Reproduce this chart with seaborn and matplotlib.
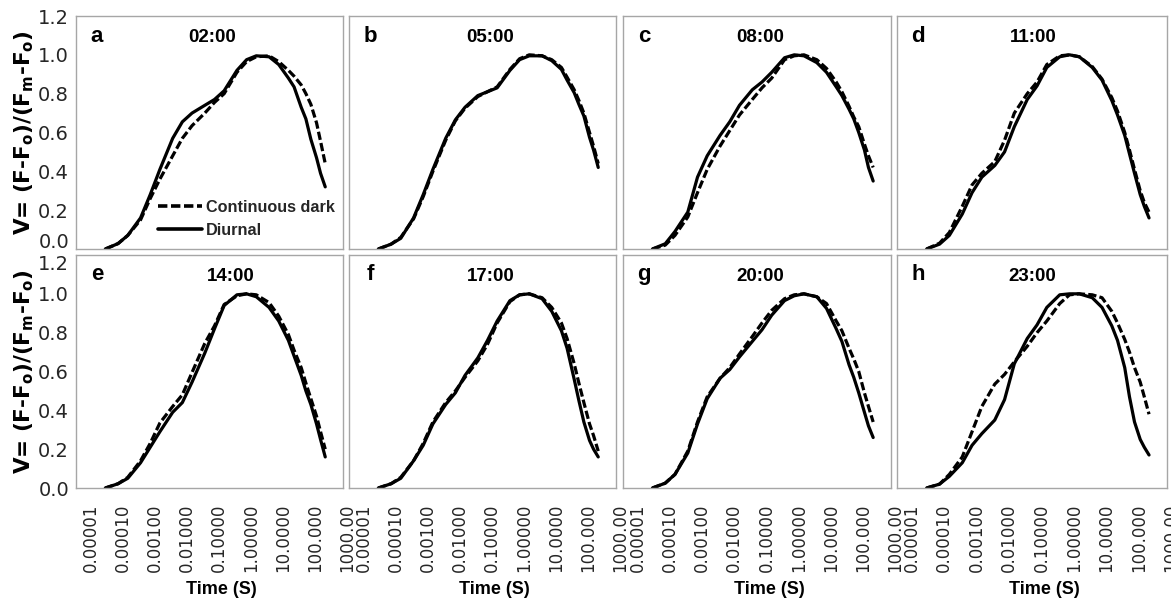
import matplotlib
matplotlib.use("Agg")
import matplotlib.pyplot as plt
import matplotlib.transforms as mtransforms
from matplotlib.lines import Line2D
from matplotlib.ticker import NullLocator
import pandas as pd
import seaborn as sns

# ---------------- data ----------------
time_s = [4e-5, 1e-4, 2e-4, 5e-4, 1e-3, 2e-3, 5e-3, 1e-2, 2e-2, 5e-2, 0.1, 0.2,
          0.5, 1, 2, 5, 10, 20, 30, 50, 70, 100, 150, 200, 280]

panel_letters = ["a", "b", "c", "d", "e", "f", "g", "h"]
panel_times = ["02:00", "05:00", "08:00", "11:00", "14:00", "17:00", "20:00", "23:00"]

a_dark = [0, 0.028, 0.07, 0.15, 0.26, 0.36, 0.48, 0.57, 0.635, 0.70, 0.755, 0.80, 0.91, 0.965, 0.99, 0.995, 0.965,
          0.92, 0.89, 0.845, 0.80, 0.745, 0.65, 0.555, 0.44]
a_diurnal = [0, 0.028, 0.07, 0.16, 0.28, 0.41, 0.57, 0.655, 0.70, 0.74, 0.77, 0.815, 0.92, 0.975, 0.995, 0.99, 0.95,
             0.88, 0.835, 0.73, 0.67, 0.565, 0.47, 0.39, 0.32]
b_dark = [0, 0.025, 0.06, 0.155, 0.27, 0.40, 0.56, 0.66, 0.725, 0.785, 0.81, 0.835, 0.925, 0.98, 1.0, 0.995, 0.975,
          0.935, 0.885, 0.82, 0.765, 0.70, 0.60, 0.53, 0.44]
b_diurnal = [0, 0.025, 0.055, 0.16, 0.28, 0.41, 0.57, 0.665, 0.73, 0.79, 0.81, 0.83, 0.92, 0.975, 0.995, 0.995, 0.97,
             0.925, 0.87, 0.805, 0.745, 0.685, 0.575, 0.51, 0.42]
c_dark = [0, 0.02, 0.07, 0.165, 0.29, 0.41, 0.53, 0.61, 0.69, 0.77, 0.83, 0.88, 0.975, 0.995, 1.0, 0.975, 0.93,
          0.86, 0.81, 0.735, 0.68, 0.63, 0.54, 0.48, 0.42]
c_diurnal = [0, 0.027, 0.09, 0.19, 0.37, 0.48, 0.585, 0.655, 0.74, 0.82, 0.86, 0.91, 0.985, 1.0, 0.995, 0.96, 0.91,
             0.835, 0.79, 0.72, 0.67, 0.60, 0.51, 0.42, 0.35]
d_dark = [0, 0.03, 0.085, 0.22, 0.33, 0.39, 0.45, 0.56, 0.70, 0.80, 0.86, 0.95, 0.995, 1.0, 0.99, 0.94, 0.875,
          0.78, 0.71, 0.60, 0.51, 0.41, 0.30, 0.24, 0.19]
d_diurnal = [0, 0.025, 0.07, 0.18, 0.29, 0.37, 0.43, 0.50, 0.63, 0.77, 0.84, 0.935, 0.99, 1.0, 0.99, 0.935, 0.87,
             0.765, 0.69, 0.585, 0.49, 0.39, 0.28, 0.22, 0.16]
e_dark = [0, 0.022, 0.055, 0.14, 0.23, 0.335, 0.42, 0.48, 0.595, 0.745, 0.835, 0.945, 0.99, 1.0, 0.995, 0.955, 0.885,
          0.79, 0.71, 0.62, 0.54, 0.46, 0.37, 0.29, 0.20]
e_diurnal = [0, 0.022, 0.05, 0.13, 0.21, 0.29, 0.39, 0.44, 0.545, 0.695, 0.82, 0.94, 0.995, 1.0, 0.985, 0.93, 0.86,
             0.76, 0.68, 0.58, 0.50, 0.43, 0.33, 0.25, 0.16]
f_dark = [0, 0.022, 0.055, 0.14, 0.23, 0.34, 0.44, 0.50, 0.57, 0.655, 0.74, 0.85, 0.96, 0.995, 1.0, 0.98, 0.93,
          0.85, 0.77, 0.64, 0.54, 0.44, 0.33, 0.27, 0.19]
f_diurnal = [0, 0.022, 0.05, 0.14, 0.22, 0.33, 0.43, 0.49, 0.58, 0.67, 0.76, 0.86, 0.965, 0.995, 1.0, 0.975, 0.91,
             0.81, 0.72, 0.56, 0.45, 0.34, 0.245, 0.20, 0.16]
g_dark = [0, 0.025, 0.07, 0.19, 0.34, 0.47, 0.565, 0.62, 0.69, 0.78, 0.85, 0.915, 0.975, 0.995, 1.0, 0.985, 0.95,
          0.86, 0.81, 0.72, 0.665, 0.60, 0.49, 0.42, 0.34]
g_diurnal = [0, 0.025, 0.07, 0.18, 0.33, 0.46, 0.565, 0.61, 0.675, 0.755, 0.815, 0.89, 0.965, 0.99, 1.0, 0.985, 0.925,
             0.82, 0.755, 0.635, 0.57, 0.49, 0.39, 0.32, 0.26]
h_dark = [0, 0.02, 0.07, 0.16, 0.29, 0.42, 0.535, 0.585, 0.65, 0.73, 0.80, 0.86, 0.95, 0.995, 1.0, 0.995, 0.98,
          0.91, 0.85, 0.765, 0.70, 0.62, 0.545, 0.47, 0.38]
h_diurnal = [0, 0.02, 0.06, 0.13, 0.22, 0.28, 0.35, 0.455, 0.64, 0.77, 0.84, 0.93, 0.995, 1.0, 1.0, 0.98, 0.93,
             0.835, 0.76, 0.62, 0.47, 0.34, 0.25, 0.21, 0.17]

dark_series = [a_dark, b_dark, c_dark, d_dark, e_dark, f_dark, g_dark, h_dark]
diurnal_series = [a_diurnal, b_diurnal, c_diurnal, d_diurnal, e_diurnal, f_diurnal, g_diurnal, h_diurnal]

x_ticks = [1e-5, 1e-4, 1e-3, 1e-2, 1e-1, 1, 10, 100, 1000]
x_tick_labels = ["0.00001", "0.00010", "0.00100", "0.01000", "0.10000",
                 "1.00000", "10.0000", "100.000", "1000.00"]
y_ticks = [0.0, 0.2, 0.4, 0.6, 0.8, 1.0, 1.2]
y_tick_labels = ["0.0", "0.2", "0.4", "0.6", "0.8", "1.0", "1.2"]

cond_names = ["Continuous dark", "Diurnal"]

# ---------------- style ----------------
sns.set_theme(style="white")
plt.rcParams["font.family"] = ["DejaVu Sans"]
plt.rcParams["mathtext.fontset"] = "custom"
plt.rcParams["mathtext.rm"] = "DejaVu Sans:bold"
plt.rcParams["mathtext.bf"] = "DejaVu Sans:bold"
plt.rcParams["mathtext.it"] = "DejaVu Sans:bold"

W, H = 1171, 605
fig = plt.figure(figsize=(W / 100, H / 100), dpi=100)

lefts = [76, 349, 623, 897]
widths = [267, 267, 268, 270]
tops = [16, 255]
hgt = 233
title_off = [2.5, 8, 3, 1.5, 21, 8, 3, 0.5]

spine_col = "#a6a6a6"
lab_col = "#262626"
dash_pat = (2.6, 1.0)

for i in range(8):
    r, c = divmod(i, 4)
    ax = fig.add_axes([lefts[c] / W, 1 - (tops[r] + hgt) / H, widths[c] / W, hgt / H])
    n = len(time_s)
    df = pd.DataFrame({
        "time": time_s + time_s,
        "V": dark_series[i] + diurnal_series[i],
        "cond": [cond_names[0]] * n + [cond_names[1]] * n,
    })
    sns.lineplot(data=df, x="time", y="V", style="cond", style_order=cond_names,
                 dashes={cond_names[0]: dash_pat, cond_names[1]: ""},
                 color="black", linewidth=2.3, estimator=None, sort=False,
                 legend=False, ax=ax)
    for ln in ax.get_lines():
        ln.set_solid_joinstyle("round")
        ln.set_dash_joinstyle("round")
    ax.set_xscale("log")
    ax.set_xlim(10 ** -5.31, 1000)
    ax.set_ylim(0, 1.2)
    ax.set_xticks(x_ticks)
    ax.xaxis.set_minor_locator(NullLocator())
    ax.set_yticks(y_ticks)
    ax.tick_params(axis="x", direction="out", length=4, width=0.9, color=spine_col, pad=7)
    ax.tick_params(axis="y", direction="out", length=4, width=0.9, color=spine_col, pad=1)
    if r == 1:
        ax.set_xticklabels(x_tick_labels, rotation=90, fontsize=12, color=lab_col)
        offset = mtransforms.ScaledTranslation(0.045, 0, fig.dpi_scale_trans)
        for lbl in ax.get_xticklabels():
            lbl.set_transform(lbl.get_transform() + offset)
    else:
        ax.set_xticklabels([])
    if c == 0:
        ax.set_yticklabels(y_tick_labels, fontsize=14, color=lab_col)
        ylbls = ax.get_yticklabels()
        if r == 0:
            ylbls[0].set_transform(ylbls[0].get_transform() +
                                   mtransforms.ScaledTranslation(0, 0.08, fig.dpi_scale_trans))
        else:
            ylbls[-1].set_transform(ylbls[-1].get_transform() +
                                    mtransforms.ScaledTranslation(0, -0.08, fig.dpi_scale_trans))
    else:
        ax.set_yticklabels([])
    for sp in ax.spines.values():
        sp.set_visible(True)
        sp.set_color(spine_col)
        sp.set_linewidth(1.0)

    if r == 1:
        ax.set_xlabel("Time (S)", fontsize=13, fontweight="bold",
                      family="Liberation Sans", color="black")
        ax.xaxis.set_label_coords(0.5 + 12 / widths[c], -(581 - 488) / hgt)
    else:
        ax.set_xlabel("")
    if c == 0:
        ax.set_ylabel(r"V= (F-F$_\mathbf{o}$)/(F$_\mathbf{m}$-F$_\mathbf{o}$)",
                      fontsize=15.5, fontweight="bold", color="black")
        ax.yaxis.set_label_coords(-(76 - 36) / widths[c], 0.5)
    else:
        ax.set_ylabel("")

    ax.text(21 / widths[c], 1 - 20 / hgt, panel_letters[i], transform=ax.transAxes,
            ha="center", va="center", fontsize=16, fontweight="bold",
            family="Liberation Sans", color="black")
    ax.text(0.5 + title_off[i] / widths[c], 1 - 21.5 / hgt, panel_times[i],
            transform=ax.transAxes, ha="center", va="center", fontsize=13.5,
            fontweight="bold", family="Liberation Sans", color="black")

    if i == 0:
        handles = [Line2D([], [], color="black", lw=2.6, dashes=dash_pat),
                   Line2D([], [], color="black", lw=2.6)]
        ax.legend(handles, cond_names, loc="upper left",
                  bbox_to_anchor=((158 - 76) / widths[0], (248.5 - 199) / hgt),
                  frameon=False, borderpad=0, borderaxespad=0,
                  handlelength=2.7, handletextpad=0.25, labelspacing=0.5,
                  prop={"family": "Liberation Sans", "weight": "bold", "size": 11.7})

fig.savefig("out.png", dpi=100)
